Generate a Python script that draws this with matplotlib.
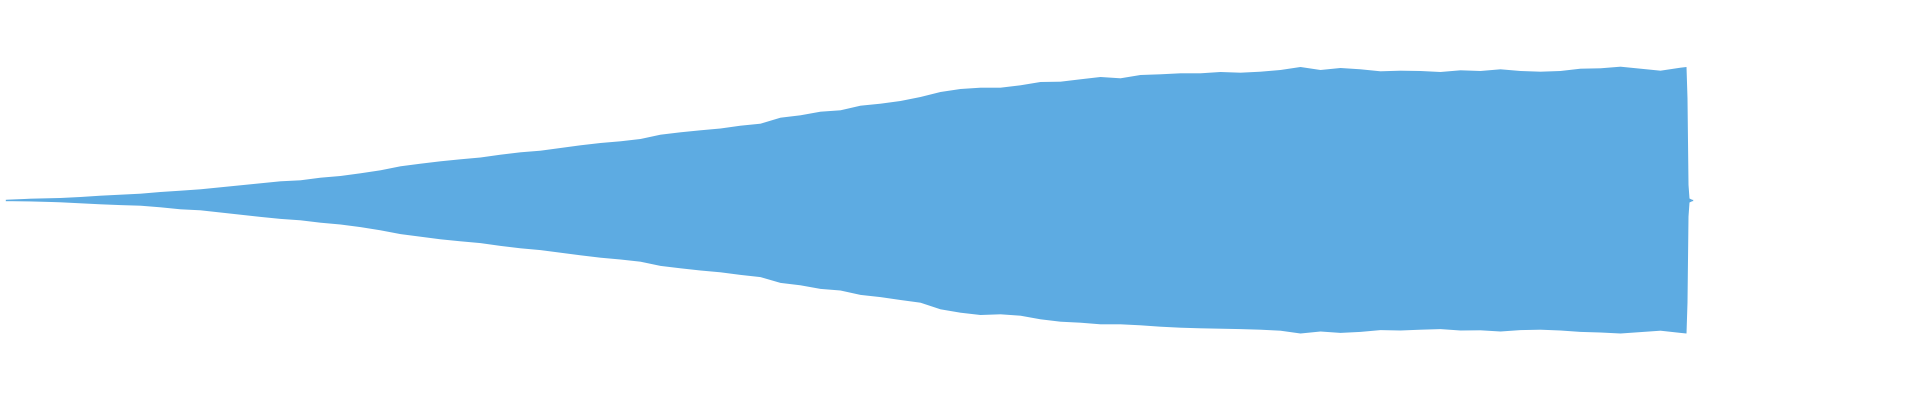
import matplotlib
matplotlib.use("Agg")
import matplotlib.pyplot as plt

# Time axis (in display columns of the waveform) and envelope amplitudes (-1..1)
times = [6, 30, 60, 80, 100, 120, 140, 160, 180, 200, 220, 240, 260, 280, 300,
         320, 340, 360, 380, 400, 420, 440, 460, 480, 500, 520, 540, 560, 580,
         600, 620, 640, 660, 680, 700, 720, 740, 760, 780, 800, 820, 840, 860,
         880, 900, 920, 940, 960, 980, 1000, 1020, 1040, 1060, 1080, 1100, 1120,
         1140, 1160, 1180, 1200, 1220, 1240, 1260, 1280, 1300, 1320, 1340, 1360,
         1380, 1400, 1420, 1440, 1460, 1480, 1500, 1520, 1540, 1560, 1580, 1600,
         1620, 1640, 1660, 1680, 1686, 1687, 1688, 1689, 1691, 1692]

upper = [0.003, 0.009, 0.0125, 0.0175, 0.024, 0.029, 0.034, 0.0425, 0.049, 0.056,
         0.066, 0.076, 0.086, 0.096, 0.101, 0.114, 0.1225, 0.136, 0.151, 0.171,
         0.184, 0.196, 0.206, 0.215, 0.229, 0.241, 0.249, 0.2625, 0.276, 0.2875,
         0.296, 0.3075, 0.329, 0.341, 0.351, 0.36, 0.374, 0.384, 0.414, 0.426,
         0.444, 0.451, 0.474, 0.484, 0.4975, 0.5175, 0.5425, 0.5575, 0.564, 0.564,
         0.576, 0.5925, 0.594, 0.606, 0.6175, 0.611, 0.6275, 0.631, 0.636, 0.636,
         0.6425, 0.639, 0.644, 0.6525, 0.6675, 0.6525, 0.6625, 0.656, 0.646, 0.649,
         0.6475, 0.6425, 0.651, 0.6475, 0.656, 0.6475, 0.644, 0.6475, 0.659, 0.661,
         0.669, 0.659, 0.649, 0.664, 0.6675, 0.51, 0.078, 0.01, 0.005, 0.0]

lower = [-0.002, -0.004, -0.009, -0.014, -0.019, -0.023, -0.026, -0.034, -0.044, -0.049,
         -0.060, -0.071, -0.082, -0.092, -0.099, -0.111, -0.120, -0.133, -0.149, -0.168,
         -0.181, -0.194, -0.204, -0.213, -0.227, -0.239, -0.248, -0.261, -0.274, -0.286,
         -0.295, -0.306, -0.327, -0.339, -0.350, -0.359, -0.372, -0.383, -0.412, -0.424,
         -0.442, -0.450, -0.472, -0.483, -0.4975, -0.511, -0.544, -0.561, -0.5725, -0.569,
         -0.576, -0.594, -0.606, -0.611, -0.619, -0.619, -0.624, -0.631, -0.636, -0.639,
         -0.641, -0.643, -0.646, -0.651, -0.665, -0.655, -0.662, -0.657, -0.648, -0.650,
         -0.646, -0.643, -0.650, -0.649, -0.655, -0.648, -0.646, -0.650, -0.657, -0.660,
         -0.665, -0.658, -0.651, -0.662, -0.665, -0.51, -0.08, -0.01, -0.005, 0.0]

WAVE_COLOR = "#5DABE2"

fig = plt.figure(figsize=(19.2, 4.0), dpi=100)
ax = fig.add_axes([0, 0, 1, 1])
ax.fill_between(times, lower, upper, color=WAVE_COLOR, linewidth=0)
ax.plot(times, [0] * len(times), color=WAVE_COLOR, linewidth=1)
ax.set_xlim(0, 1920)
ax.set_ylim(-1, 1)
ax.axis("off")
fig.savefig("out.png", dpi=100, facecolor="white")
